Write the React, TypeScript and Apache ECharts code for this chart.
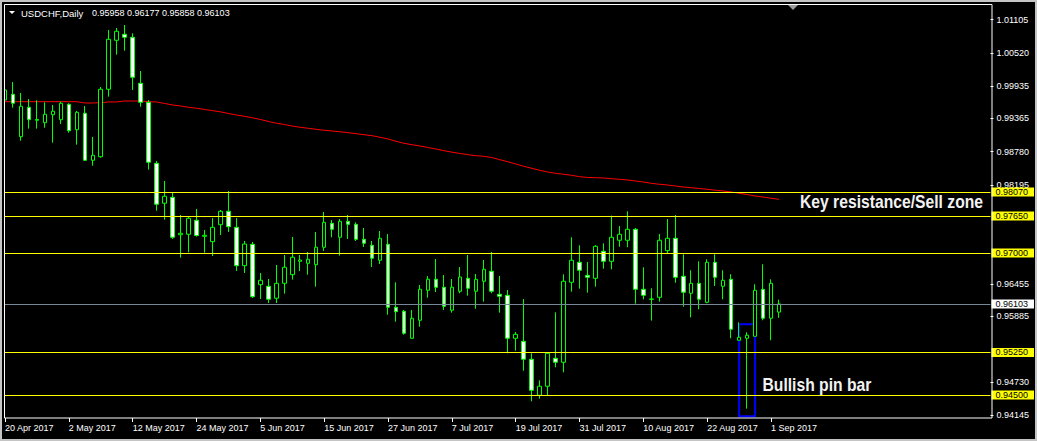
import React, { useEffect, useRef } from "react";
import * as echarts from "echarts";

// ---- DATA -----------------------------------------------------------
const DATES = [
  "20 Apr 2017", "21 Apr 2017", "24 Apr 2017", "25 Apr 2017", "26 Apr 2017", "27 Apr 2017", "28 Apr 2017",
  "1 May 2017", "2 May 2017", "3 May 2017", "4 May 2017", "5 May 2017",
  "8 May 2017", "9 May 2017", "10 May 2017", "11 May 2017", "12 May 2017",
  "15 May 2017", "16 May 2017", "17 May 2017", "18 May 2017", "19 May 2017",
  "22 May 2017", "23 May 2017", "24 May 2017", "25 May 2017", "26 May 2017",
  "29 May 2017", "30 May 2017", "31 May 2017", "1 Jun 2017", "2 Jun 2017",
  "5 Jun 2017", "6 Jun 2017", "7 Jun 2017", "8 Jun 2017", "9 Jun 2017",
  "12 Jun 2017", "13 Jun 2017", "14 Jun 2017", "15 Jun 2017", "16 Jun 2017",
  "19 Jun 2017", "20 Jun 2017", "21 Jun 2017", "22 Jun 2017", "23 Jun 2017",
  "26 Jun 2017", "27 Jun 2017", "28 Jun 2017", "29 Jun 2017", "30 Jun 2017",
  "3 Jul 2017", "4 Jul 2017", "5 Jul 2017", "6 Jul 2017", "7 Jul 2017",
  "10 Jul 2017", "11 Jul 2017", "12 Jul 2017", "13 Jul 2017", "14 Jul 2017",
  "17 Jul 2017", "18 Jul 2017", "19 Jul 2017", "20 Jul 2017", "21 Jul 2017",
  "24 Jul 2017", "25 Jul 2017", "26 Jul 2017", "27 Jul 2017", "28 Jul 2017",
  "31 Jul 2017", "1 Aug 2017", "2 Aug 2017", "3 Aug 2017", "4 Aug 2017",
  "7 Aug 2017", "8 Aug 2017", "9 Aug 2017", "10 Aug 2017", "11 Aug 2017",
  "14 Aug 2017", "15 Aug 2017", "16 Aug 2017", "17 Aug 2017", "18 Aug 2017",
  "21 Aug 2017", "22 Aug 2017", "23 Aug 2017", "24 Aug 2017", "25 Aug 2017",
  "28 Aug 2017", "29 Aug 2017", "30 Aug 2017", "31 Aug 2017", "1 Sep 2017", "4 Sep 2017",
];

const OPEN = [
  0.99690, 0.99790, 0.99044, 0.99561, 0.99333, 0.99290, 0.99431, 0.99343, 0.99614, 0.99167,
  0.99456, 0.98629, 0.98692, 0.99878, 1.00740, 1.00845, 1.00793, 0.99983, 0.99649, 0.98576,
  0.97873, 0.97978, 0.97320, 0.97327, 0.97574, 0.97292, 0.97197, 0.97496, 0.97732, 0.97450,
  0.96775, 0.97151, 0.96441, 0.96413, 0.96202, 0.96465, 0.96617, 0.96852, 0.96817, 0.96793,
  0.97099, 0.97521, 0.97275, 0.97556, 0.97503, 0.97239, 0.97134, 0.96870, 0.97151, 0.96043,
  0.95973, 0.95498, 0.95815, 0.96342, 0.96536, 0.96395, 0.95991, 0.96325, 0.96553, 0.96325,
  0.96501, 0.96677, 0.96272, 0.96254, 0.95498, 0.95445, 0.95129, 0.94495, 0.94654, 0.95146,
  0.95076, 0.96483, 0.96835, 0.96606, 0.96553, 0.97028, 0.96852, 0.97222, 0.97222, 0.97415,
  0.96360, 0.96184, 0.96219, 0.97039, 0.97257, 0.96589, 0.96290, 0.96465, 0.96131, 0.96835,
  0.96413, 0.96536, 0.95463, 0.95498, 0.95533, 0.96360, 0.95850, 0.95958,
];
const CLOSE = [
  0.99866, 0.99632, 0.99579, 0.99343, 0.99347, 0.99438, 0.99491, 0.99632, 0.99150, 0.99473,
  0.98629, 0.98717, 0.99878, 1.00757, 1.00898, 1.00793, 1.00089, 0.99649, 0.98594, 0.97855,
  0.97996, 0.97275, 0.97345, 0.97609, 0.97306, 0.97310, 0.97450, 0.97732, 0.97461, 0.96775,
  0.97157, 0.96230, 0.96518, 0.96184, 0.96465, 0.96747, 0.96923, 0.96875, 0.96888, 0.97099,
  0.97538, 0.97415, 0.97556, 0.97503, 0.97239, 0.97169, 0.96905, 0.97257, 0.96043, 0.95966,
  0.95586, 0.95850, 0.96360, 0.96536, 0.96395, 0.96061, 0.96395, 0.96576, 0.96378, 0.96536,
  0.96712, 0.96325, 0.96237, 0.95498, 0.95568, 0.95129, 0.94583, 0.94654, 0.95234, 0.95076,
  0.96501, 0.96870, 0.96694, 0.96571, 0.97116, 0.96852, 0.97275, 0.97327, 0.97415, 0.96360,
  0.96254, 0.96189, 0.97222, 0.97257, 0.96571, 0.96307, 0.96465, 0.96184, 0.96835, 0.96571,
  0.96518, 0.95656, 0.95516, 0.95551, 0.96342, 0.95850, 0.96465, 0.96103,
];
const LOW = [
  0.99408, 0.99554, 0.98974, 0.99185, 0.99185, 0.99202, 0.98939, 0.99268, 0.99115, 0.98903,
  0.98622, 0.98534, 0.98675, 0.99748, 1.00487, 1.00557, 0.99866, 0.99572, 0.98464, 0.97743,
  0.97584, 0.97245, 0.96916, 0.97011, 0.97285, 0.97004, 0.96946, 0.97315, 0.97368, 0.96682,
  0.96647, 0.96207, 0.96189, 0.96119, 0.96119, 0.96283, 0.96529, 0.96682, 0.96617, 0.96406,
  0.97034, 0.97275, 0.96951, 0.97245, 0.97210, 0.97104, 0.96752, 0.96805, 0.95913, 0.95790,
  0.95561, 0.95498, 0.95702, 0.96212, 0.96312, 0.95996, 0.95948, 0.96290, 0.96247, 0.96019,
  0.96142, 0.96290, 0.95948, 0.95234, 0.95280, 0.94928, 0.94390, 0.94436, 0.94495, 0.94988,
  0.94900, 0.96318, 0.96370, 0.96300, 0.96406, 0.96722, 0.96712, 0.97109, 0.97099, 0.96107,
  0.96184, 0.95808, 0.96142, 0.96993, 0.96476, 0.96054, 0.95867, 0.96008, 0.96114, 0.96418,
  0.96184, 0.95498, 0.95463, 0.94260, 0.95533, 0.95815, 0.95463, 0.95858,
];
const HIGH = [
  0.99880, 1.00006, 0.99813, 0.99707, 0.99684, 0.99649, 0.99602, 0.99660, 0.99632, 0.99496,
  0.99584, 0.99039, 0.99918, 1.00921, 1.00956, 1.01009, 1.00863, 1.00200, 0.99690, 0.98617,
  0.98265, 0.98059, 0.97667, 0.97637, 0.97772, 0.97403, 0.97614, 0.97755, 0.98089, 0.97614,
  0.97210, 0.97192, 0.96647, 0.96541, 0.96787, 0.96963, 0.97280, 0.96963, 0.97016, 0.97368,
  0.97720, 0.97579, 0.97597, 0.97667, 0.97538, 0.97438, 0.97210, 0.97385, 0.97333, 0.96483,
  0.95996, 0.95996, 0.96436, 0.96594, 0.96893, 0.96611, 0.96541, 0.96752, 0.96963, 0.96629,
  0.96875, 0.97016, 0.96594, 0.96348, 0.95609, 0.96189, 0.95234, 0.94759, 0.95252, 0.95955,
  0.96624, 0.97275, 0.97134, 0.96840, 0.97134, 0.97169, 0.97655, 0.97473, 0.97732, 0.97438,
  0.96747, 0.96378, 0.97333, 0.97597, 0.97667, 0.96976, 0.96694, 0.96852, 0.96888, 0.96976,
  0.96694, 0.96624, 0.95779, 0.95604, 0.96448, 0.96800, 0.96536, 0.96177,
];
const MOVING_AVERAGE = [
  0.99660, 0.99660, 0.99660, 0.99660, 0.99660, 0.99660, 0.99660, 0.99660, 0.99660, 0.99660,
  0.99637, 0.99637, 0.99642, 0.99655, 0.99655, 0.99672, 0.99672, 0.99672, 0.99660, 0.99655,
  0.99628, 0.99602, 0.99584, 0.99561, 0.99544, 0.99523, 0.99502, 0.99482, 0.99452, 0.99426,
  0.99403, 0.99377, 0.99347, 0.99312, 0.99282, 0.99259, 0.99232, 0.99209, 0.99192, 0.99174,
  0.99157, 0.99144, 0.99130, 0.99115, 0.99097, 0.99079, 0.99062, 0.99034, 0.99004, 0.98963,
  0.98928, 0.98903, 0.98881, 0.98854, 0.98828, 0.98798, 0.98772, 0.98749, 0.98728, 0.98710,
  0.98699, 0.98678, 0.98640, 0.98604, 0.98564, 0.98524, 0.98488, 0.98453, 0.98423, 0.98400,
  0.98383, 0.98365, 0.98341, 0.98327, 0.98323, 0.98318, 0.98305, 0.98295, 0.98283, 0.98265,
  0.98247, 0.98224, 0.98207, 0.98195, 0.98177, 0.98159, 0.98147, 0.98133, 0.98119, 0.98103,
  0.98089, 0.98071, 0.98049, 0.98027, 0.98001, 0.97983, 0.97961, 0.97943,
];

const LEVELS = [0.9807, 0.9765, 0.97, 0.9525, 0.945];
const LAST_PRICE = 0.96103;
const PRICE_TICKS = [
  1.01105, 1.0052, 0.99935, 0.99365, 0.9878, 0.98195, 0.96455, 0.95885, 0.9473, 0.94145,
];
const Y_MIN = 0.94096;
const Y_MAX = 1.01378;
const FUTURE_SLOTS = 26;
const LABEL_EVERY = 8;
const HEADER_SYMBOL = "USDCHF,Daily";
const HEADER_QUOTE = "0.95958 0.96177 0.95858 0.96103";
const PIN_BAR = { from: "28 Aug 2017", to: "30 Aug 2017", top: 0.95744, bottom: 0.94126 };
const NOTE_RESISTANCE = "Key resistance/Sell zone";
const NOTE_PIN = "Bullish pin bar";

// ---- CHART ----------------------------------------------------------
const FONT = "'Liberation Sans', Arial, sans-serif";

export default function App() {
  const ref = useRef<HTMLDivElement>(null);

  useEffect(() => {
    if (!ref.current) return;
    const chart = echarts.init(ref.current, undefined, { renderer: "svg" });
    const n = DATES.length;
    const categories = [
      ...DATES,
      ...Array.from({ length: FUTURE_SLOTS }, (_, i) => `future-${i + 1}`),
    ];
    const showIdx = (i: number) => i < n && i % LABEL_EVERY === 0;
    const boxStyle = (bg: string) => ({
      backgroundColor: bg,
      color: "#000000",
      fontSize: 9,
      fontFamily: FONT,
      padding: [0, 6, 0, 4],
      lineHeight: 10,
    });

    const option: any = {
      animation: false,
      backgroundColor: "#000000",
      grid: { left: 1, right: 45, top: 4, bottom: 23, containLabel: false },
      xAxis: {
        type: "category",
        data: categories,
        boundaryGap: true,
        axisLine: { show: false },
        axisTick: {
          show: true,
          alignWithLabel: true,
          length: 4,
          interval: (i: number) => showIdx(i),
          lineStyle: { color: "#ffffff", width: 1 },
        },
        axisLabel: {
          interval: (i: number) => showIdx(i),
          color: "#ffffff",
          fontSize: 9,
          fontFamily: FONT,
          align: "left",
          margin: 5,
          formatter: (v: string, i: number) => (i < n ? v : ""),
        },
        splitLine: { show: false },
      },
      yAxis: [
        {
          type: "value",
          position: "right",
          min: Y_MIN,
          max: Y_MAX,
          axisLine: { show: false },
          splitLine: { show: false },
          axisTick: {
            show: true,
            length: 3,
            customValues: PRICE_TICKS,
            lineStyle: { color: "#ffffff" },
          },
          axisLabel: {
            customValues: PRICE_TICKS,
            formatter: (v: number) => v.toFixed(5),
            color: "#ffffff",
            fontSize: 9,
            fontFamily: FONT,
            margin: 6,
            showMinLabel: true,
            showMaxLabel: true,
          },
        },
        {
          type: "value",
          position: "right",
          min: Y_MIN,
          max: Y_MAX,
          z: 10,
          axisLine: { show: false },
          splitLine: { show: false },
          axisTick: { show: false },
          axisLabel: {
            customValues: [...LEVELS, LAST_PRICE],
            showMinLabel: true,
            showMaxLabel: true,
            margin: 1,
            formatter: (v: number) =>
              Math.abs(v - LAST_PRICE) < 1e-7 ? `{w|${v.toFixed(5)}}` : `{y|${v.toFixed(5)}}`,
            rich: { y: boxStyle("#ffff00"), w: boxStyle("#ffffff") },
          },
        },
      ],
      series: [
        {
          name: "levels",
          type: "line",
          data: [],
          z: 1,
          markLine: {
            silent: true,
            precision: 5,
            symbol: ["none", "none"],
            label: { show: false },
            data: [
              ...LEVELS.map((v) => ({
                yAxis: v,
                lineStyle: { color: "#ffff00", width: 1, type: "solid" },
              })),
              { yAxis: LAST_PRICE, lineStyle: { color: "#778899", width: 1, type: "solid" } },
            ],
          },
        },
        {
          name: "MA",
          type: "line",
          data: MOVING_AVERAGE,
          symbol: "none",
          showSymbol: false,
          z: 2,
          lineStyle: { color: "#ff0000", width: 1 },
        },
        {
          name: "USDCHF",
          type: "candlestick",
          z: 3,
          barWidth: 4,
          data: OPEN.map((o, i) => [o, CLOSE[i], LOW[i], HIGH[i]]),
          itemStyle: {
            color: "#000000",
            color0: "#ffffff",
            borderColor: "#00ff00",
            borderColor0: "#00ff00",
            borderWidth: 1,
          },
          markArea: {
            silent: true,
            precision: 5,
            itemStyle: { color: "rgba(0,0,0,0)", borderColor: "#0000ff", borderWidth: 2 },
            data: [
              [
                { xAxis: PIN_BAR.from, yAxis: PIN_BAR.top },
                { xAxis: PIN_BAR.to, yAxis: PIN_BAR.bottom },
              ],
            ],
          },
        },
      ],
      graphic: [
        // cover left strip & window border
        { type: "rect", z: 100, shape: { x: 0, y: 0, width: 4, height: 441 }, style: { fill: "#000000" } },
        { type: "rect", z: 101, shape: { x: 0, y: 0, width: 1037, height: 2 }, style: { fill: "#c4c4c4" } },
        { type: "rect", z: 101, shape: { x: 0, y: 0, width: 2, height: 441 }, style: { fill: "#c4c4c4" } },
        { type: "rect", z: 101, shape: { x: 1035, y: 0, width: 2, height: 441 }, style: { fill: "#c4c4c4" } },
        { type: "rect", z: 101, shape: { x: 0, y: 439, width: 1037, height: 2 }, style: { fill: "#c4c4c4" } },
        // plot frame
        {
          type: "rect",
          z: 102,
          shape: { x: 4.5, y: 4.5, width: 987.5, height: 413.5 },
          style: { fill: "none", stroke: "#ffffff", lineWidth: 1 },
        },
        // shift marker
        {
          type: "polygon",
          z: 103,
          shape: { points: [[788, 5], [798, 5], [793, 10]] },
          style: { fill: "#9a9a9a" },
        },
        // header
        {
          type: "polygon",
          z: 103,
          shape: { points: [[9, 11], [15, 11], [12, 14]] },
          style: { fill: "#ffffff" },
        },
        {
          type: "text",
          z: 103,
          x: 21,
          y: 13,
          style: {
            text: HEADER_SYMBOL,
            fill: "#ffffff",
            font: `9.5px ${FONT}`,
            textVerticalAlign: "middle",
          },
        },
        {
          type: "text",
          z: 103,
          x: 92,
          y: 13,
          style: {
            text: HEADER_QUOTE,
            fill: "#ffffff",
            font: `9px ${FONT}`,
            textVerticalAlign: "middle",
          },
        },
        // annotations
        {
          type: "text",
          z: 103,
          x: 800,
          y: 202,
          scaleX: 0.886,
          style: {
            text: NOTE_RESISTANCE,
            fill: "#f2f2f2",
            font: `bold 17.7px ${FONT}`,
            textVerticalAlign: "middle",
          },
        },
        {
          type: "text",
          z: 103,
          x: 762.5,
          y: 385,
          scaleX: 0.886,
          style: {
            text: NOTE_PIN,
            fill: "#f2f2f2",
            font: `bold 17.7px ${FONT}`,
            textVerticalAlign: "middle",
          },
        },
      ],
    };

    chart.setOption(option);
    return () => chart.dispose();
  }, []);

  return (
    <div
      ref={ref}
      style={{ position: "fixed", left: 0, top: 0, width: 1037, height: 441, background: "#000" }}
    />
  );
}
